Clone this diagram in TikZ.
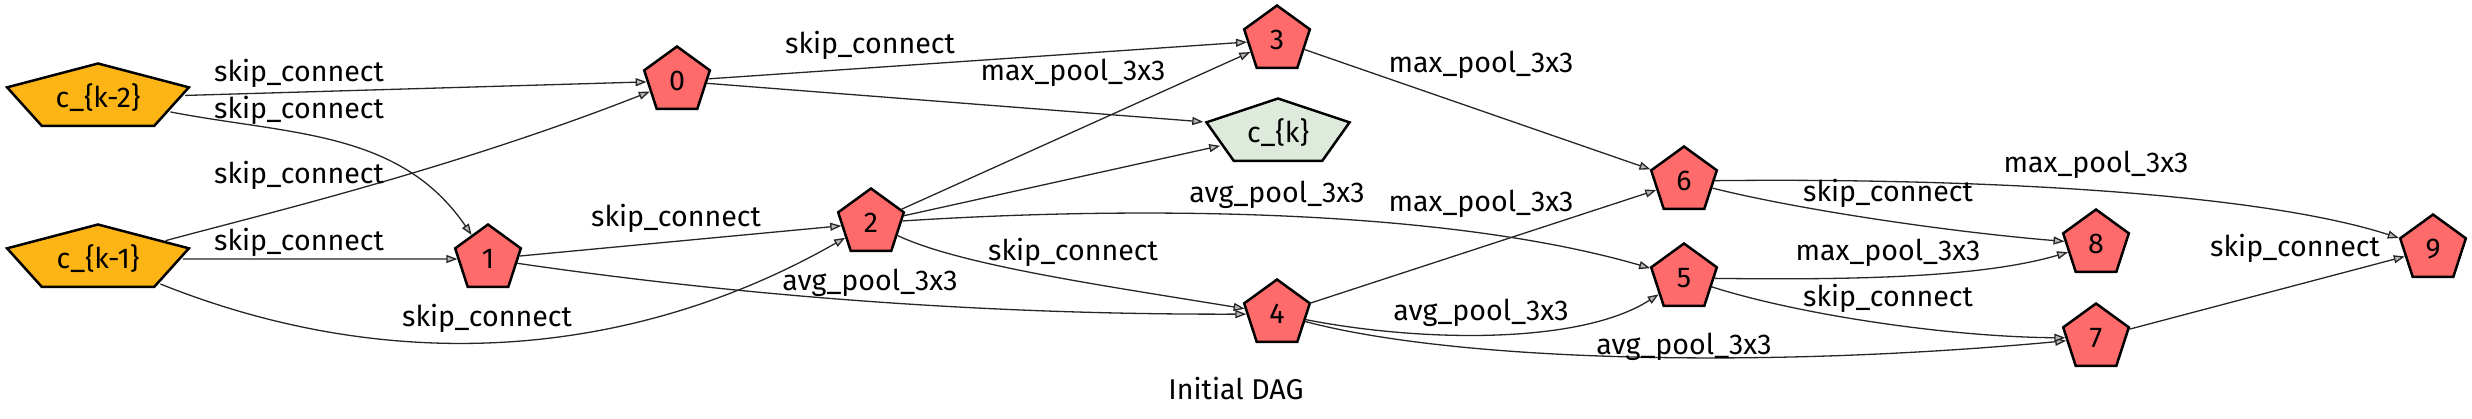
\documentclass[tikz,border=0pt]{standalone}
\usepackage{fontspec}
\setmainfont{Fira Sans}
\usepackage{graphicx}
\usetikzlibrary{shapes.geometric, arrows.meta}
\definecolor{opred}{HTML}{FF6B6B}
\definecolor{inyellow}{HTML}{FDB515}
\definecolor{outgreen}{HTML}{DEEBDC}
\newcommand{\dagfont}{\fontsize{14.3}{17}\selectfont}
\tikzset{
  opnode/.style  = {regular polygon, regular polygon sides=5, draw=black, line width=1.25pt,
                    fill=opred, minimum size=34.5pt, inner sep=0pt, font=\dagfont},
  innode/.style  = {opnode, fill=inyellow},
  outnode/.style = {opnode, fill=outgreen},
  oparrow/.style = {draw=black!85, line width=0.65pt, -{Triangle[length=5.5pt, width=4pt, fill=black!28]}},
  oplabel/.style = {inner sep=0pt, font=\dagfont},
}
\begin{document}
\begin{tikzpicture}[x=0.5pt, y=-0.5pt]
    \useasboundingbox (0,0) rectangle (2472,418);

    %% input and output cells
    \node[innode, xscale=2.77] (ckm2) at (98,98)    {\scalebox{0.361}[1]{c\_\{k-2\}}};
    \node[innode, xscale=2.77] (ckm1) at (98,259)   {\scalebox{0.361}[1]{c\_\{k-1\}}};
    \node[outnode, xscale=2.18] (ck)  at (1278,133) {\scalebox{0.459}[1]{c\_\{k\}}};

    %% intermediate nodes
    \node[opnode] (n0) at (677,81)   {0};
    \node[opnode] (n1) at (488,259)  {1};
    \node[opnode] (n2) at (871,223)  {2};
    \node[opnode] (n3) at (1277,40)  {3};
    \node[opnode] (n4) at (1277,314) {4};
    \node[opnode] (n5) at (1684,278) {5};
    \node[opnode] (n6) at (1684,181) {6};
    \node[opnode] (n7) at (2096,338) {7};
    \node[opnode] (n8) at (2096,244) {8};
    \node[opnode] (n9) at (2433,249) {9};

    %% edges
    \draw[oparrow] (ckm2) -- (n0);
    \draw[oparrow] (ckm2) .. controls (290,135) and (400,130) .. (n1);
    \draw[oparrow] (ckm1) .. controls (260,215) and (450,170) .. (n0);
    \draw[oparrow] (ckm1) -- (n1);
    \draw[oparrow] (ckm1) .. controls (400,380) and (640,355) .. (n2);
    \draw[oparrow] (n0) -- (n3);
    \draw[oparrow] (n0) -- (ck.corner 2);
    \draw[oparrow] (n1) -- (n2);
    \draw[oparrow] (n1) .. controls (700,290) and (950,315) .. (n4);
    \draw[oparrow] (n2) -- (n3);
    \draw[oparrow] (n2) -- (ck);
    \draw[oparrow] (n2) .. controls (1150,205) and (1450,210) .. (n5);
    \draw[oparrow] (n2) .. controls (960,265) and (1100,285) .. (n4);
    \draw[oparrow] (n3) -- (n6);
    \draw[oparrow] (n4) -- (n6);
    \draw[oparrow] (n4) .. controls (1420,342) and (1580,345) .. (n5);
    \draw[oparrow] (n4) .. controls (1450,360) and (1750,370) .. (n7);
    \draw[oparrow] (n5) .. controls (1850,280) and (1980,278) .. (n8);
    \draw[oparrow] (n5) .. controls (1800,315) and (1950,337) .. (n7);
    \draw[oparrow] (n6) .. controls (1800,210) and (1950,232) .. (n8);
    \draw[oparrow] (n6) .. controls (1950,178) and (2250,190) .. (n9);
    \draw[oparrow] (n7) -- (n9);

    %% edge labels
    \node[oplabel] (l1)  at (299,73)   {skip\_connect};
    \node[oplabel] (l2)  at (299,110)  {skip\_connect};
    \node[oplabel] (l3)  at (299,175)  {skip\_connect};
    \node[oplabel] (l4)  at (299,242)  {skip\_connect};
    \node[oplabel] (l5)  at (487,318)  {skip\_connect};
    \node[oplabel] (l6)  at (870,45)   {skip\_connect};
    \node[oplabel] (l7)  at (1073,73)  {max\_pool\_3x3};
    \node[oplabel] (l8)  at (676,218)  {skip\_connect};
    \node[oplabel] (l9)  at (870,283)  {avg\_pool\_3x3};
    \node[oplabel] (l10) at (1277,195) {avg\_pool\_3x3};
    \node[oplabel] (l11) at (1073,252) {skip\_connect};
    \node[oplabel] (l12) at (1481,65)  {max\_pool\_3x3};
    \node[oplabel] (l13) at (1481,204) {max\_pool\_3x3};
    \node[oplabel] (l14) at (1481,313) {avg\_pool\_3x3};
    \node[oplabel] (l15) at (1684,347) {avg\_pool\_3x3};
    \node[oplabel] (l16) at (1888,193) {skip\_connect};
    \node[oplabel] (l17) at (1888,253) {max\_pool\_3x3};
    \node[oplabel] (l18) at (1888,298) {skip\_connect};
    \node[oplabel] (l19) at (2096,165) {max\_pool\_3x3};
    \node[oplabel] (l20) at (2295,248) {skip\_connect};

    %% caption
    \node[oplabel] (title) at (1236,389) {Initial DAG};

\end{tikzpicture}
\end{document}
